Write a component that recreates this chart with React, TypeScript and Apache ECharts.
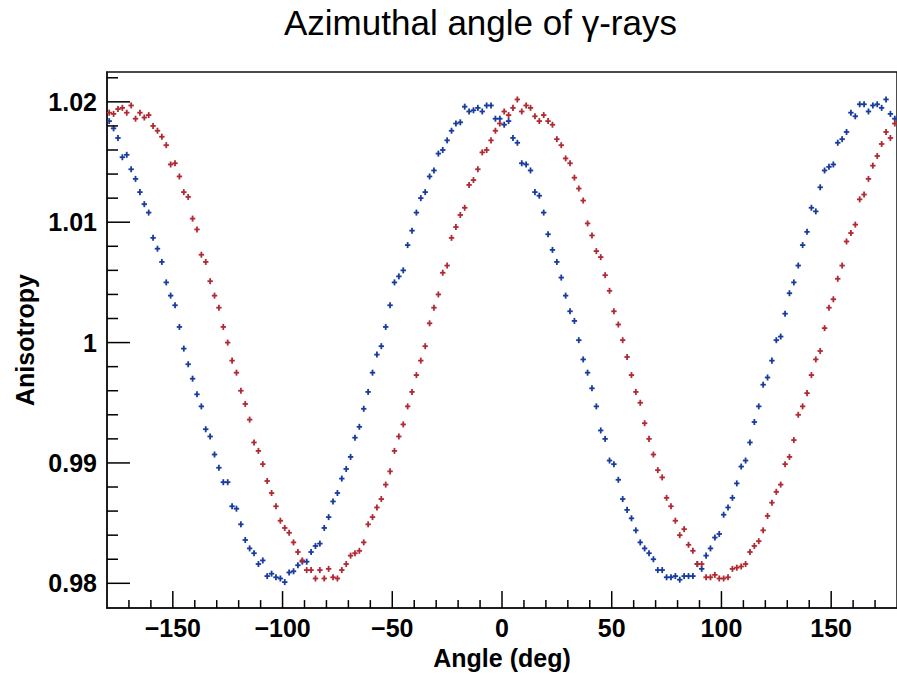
import React, { useEffect, useRef } from "react";
import * as echarts from "echarts";

// Histogram binning (2-degree bins from -180 to 180)
const binStart = -180;
const binWidth = 2;
const nBins = 180;
const errorBar = 0.00025;

// Blue series values (bin centres -179 ... 179)
const blueValues = [
  1.0184, 1.0178, 1.0170, 1.0154, 1.0156, 1.0144, 1.0136, 1.0125, 1.0115, 1.0108,
  1.0087, 1.0078, 1.0067, 1.0050, 1.0039, 1.0031, 1.0013, 0.9995, 0.9982, 0.9970,
  0.9957, 0.9947, 0.9928, 0.9922, 0.9907, 0.9896, 0.9884, 0.9884, 0.9864, 0.9862,
  0.9849, 0.9836, 0.9829, 0.9825, 0.9816, 0.9819, 0.9806, 0.9808, 0.9805, 0.9804,
  0.9801, 0.9809, 0.9810, 0.9815, 0.9818, 0.9818, 0.9826, 0.9831, 0.9833, 0.9846,
  0.9855, 0.9868, 0.9875, 0.9887, 0.9895, 0.9905, 0.9921, 0.9930, 0.9945, 0.9959,
  0.9975, 0.9990, 0.9997, 1.0013, 1.0031, 1.0050, 1.0055, 1.0060, 1.0081, 1.0093,
  1.0108, 1.0120, 1.0125, 1.0138, 1.0143, 1.0157, 1.0160, 1.0168, 1.0176, 1.0182,
  1.0183, 1.0196, 1.0192, 1.0193, 1.0195, 1.0192, 1.0197, 1.0197, 1.0186, 1.0186,
  1.0181, 1.0184, 1.0170, 1.0166, 1.0149, 1.0148, 1.0143, 1.0125, 1.0122, 1.0108,
  1.0090, 1.0077, 1.0067, 1.0054, 1.0039, 1.0026, 1.0018, 1.0002, 0.9986, 0.9975,
  0.9962, 0.9947, 0.9927, 0.9920, 0.9902, 0.9899, 0.9886, 0.9870, 0.9861, 0.9854,
  0.9844, 0.9834, 0.9829, 0.9825, 0.9820, 0.9811, 0.9811, 0.9805, 0.9805, 0.9806,
  0.9803, 0.9806, 0.9806, 0.9806, 0.9816, 0.9812, 0.9823, 0.9829, 0.9838, 0.9841,
  0.9857, 0.9863, 0.9871, 0.9883, 0.9897, 0.9902, 0.9917, 0.9934, 0.9947, 0.9965,
  0.9971, 0.9985, 1.0002, 1.0005, 1.0024, 1.0041, 1.0050, 1.0064, 1.0081, 1.0092,
  1.0112, 1.0109, 1.0129, 1.0143, 1.0146, 1.0148, 1.0166, 1.0169, 1.0175, 1.0191,
  1.0188, 1.0198, 1.0198, 1.0192, 1.0197, 1.0198, 1.0195, 1.0202, 1.0190, 1.0186,
];

// Red series values (bin centres -179 ... 179)
const redValues = [
  1.0191, 1.0190, 1.0194, 1.0195, 1.0191, 1.0197, 1.0186, 1.0191, 1.0187, 1.0189,
  1.0180, 1.0176, 1.0171, 1.0164, 1.0148, 1.0149, 1.0138, 1.0125, 1.0121, 1.0103,
  1.0094, 1.0073, 1.0067, 1.0051, 1.0039, 1.0029, 1.0013, 1.0000, 0.9985, 0.9975,
  0.9960, 0.9949, 0.9936, 0.9917, 0.9910, 0.9899, 0.9885, 0.9875, 0.9864, 0.9852,
  0.9846, 0.9842, 0.9834, 0.9826, 0.9819, 0.9811, 0.9811, 0.9804, 0.9811, 0.9804,
  0.9812, 0.9805, 0.9804, 0.9811, 0.9816, 0.9823, 0.9825, 0.9827, 0.9834, 0.9849,
  0.9855, 0.9863, 0.9870, 0.9882, 0.9893, 0.9910, 0.9922, 0.9932, 0.9947, 0.9959,
  0.9973, 0.9985, 0.9997, 1.0016, 1.0029, 1.0040, 1.0058, 1.0064, 1.0087, 1.0096,
  1.0106, 1.0112, 1.0131, 1.0135, 1.0144, 1.0158, 1.0160, 1.0168, 1.0176, 1.0182,
  1.0192, 1.0189, 1.0195, 1.0202, 1.0192, 1.0197, 1.0195, 1.0188, 1.0184, 1.0189,
  1.0184, 1.0181, 1.0169, 1.0164, 1.0153, 1.0149, 1.0137, 1.0128, 1.0118, 1.0099,
  1.0089, 1.0076, 1.0071, 1.0056, 1.0043, 1.0026, 1.0015, 1.0002, 0.9988, 0.9973,
  0.9959, 0.9950, 0.9933, 0.9920, 0.9907, 0.9894, 0.9888, 0.9871, 0.9864, 0.9852,
  0.9840, 0.9845, 0.9832, 0.9827, 0.9816, 0.9816, 0.9805, 0.9805, 0.9807, 0.9804,
  0.9804, 0.9805, 0.9812, 0.9813, 0.9814, 0.9816, 0.9826, 0.9831, 0.9835, 0.9844,
  0.9856, 0.9867, 0.9876, 0.9882, 0.9899, 0.9905, 0.9919, 0.9940, 0.9947, 0.9958,
  0.9973, 0.9986, 0.9993, 1.0012, 1.0029, 1.0036, 1.0053, 1.0064, 1.0084, 1.0091,
  1.0098, 1.0119, 1.0123, 1.0136, 1.0147, 1.0155, 1.0165, 1.0175, 1.0170, 1.0182,
];

// Tick values and labels
const xMajorTicks = [-150, -100, -50, 0, 50, 100, 150];
const xTickLabels = ["\u2212150", "\u2212100", "\u221250", "0", "50", "100", "150"];
const xMinorTicks = [-170, -160, -140, -130, -120, -110, -90, -80, -70, -60, -40, -30, -20, -10,
  10, 20, 30, 40, 60, 70, 80, 90, 110, 120, 130, 140, 160, 170];
const yMajorTicks = [0.98, 0.99, 1.0, 1.01, 1.02];
const yTickLabels = ["0.98", "0.99", "1", "1.01", "1.02"];
const yMinorTicks = [0.982, 0.984, 0.986, 0.988, 0.992, 0.994, 0.996, 0.998,
  1.002, 1.004, 1.006, 1.008, 1.012, 1.014, 1.016, 1.018, 1.022];

const xMin = -180;
const xMax = 180;
const yMin = 0.97794;
const yMax = 1.02248;

const BLUE = "#183c9e";
const RED = "#b02a33";
const FONT = "'Liberation Sans', Arial, Helvetica, sans-serif";

function makeCrossRender(color: string) {
  return (params: any, api: any) => {
    const x = api.value(0);
    const y = api.value(1);
    const c = api.coord([x, y]);
    const l = api.coord([x - binWidth / 2, y]);
    const r = api.coord([x + binWidth / 2, y]);
    const t = api.coord([x, y + errorBar]);
    const b = api.coord([x, y - errorBar]);
    const style = { stroke: color, lineWidth: 1.8 };
    return {
      type: "group",
      children: [
        { type: "line", shape: { x1: l[0] - 0.5, y1: c[1], x2: r[0] + 0.5, y2: c[1] }, style },
        { type: "line", shape: { x1: c[0], y1: t[1], x2: c[0], y2: b[1] }, style },
      ],
    };
  };
}

// Axis tick marks, placed through the axes' own scales
function makeTickRender(dir: "x" | "y", length: number) {
  return (params: any, api: any) => {
    const p = api.coord([api.value(0), api.value(1)]);
    const style = { stroke: "#000", lineWidth: 1.5 };
    const shape =
      dir === "x"
        ? { x1: p[0], y1: p[1], x2: p[0], y2: p[1] - length }
        : { x1: p[0], y1: p[1], x2: p[0] + length, y2: p[1] };
    return { type: "line", shape, style, silent: true };
  };
}

export default function App() {
  const ref = useRef<HTMLDivElement>(null);
  useEffect(() => {
    if (!ref.current) return;
    const chart = echarts.init(ref.current, undefined, { renderer: "svg" });
    const centres = Array.from({ length: nBins }, (_, i) => binStart + binWidth * (i + 0.5));
    const blueData = blueValues.map((v, i) => [centres[i], v]);
    const redData = redValues.map((v, i) => [centres[i], v]);
    const tickSeries = (data: number[][], dir: "x" | "y", len: number) => ({
      type: "custom",
      silent: true,
      clip: false,
      z: 5,
      renderItem: makeTickRender(dir, len),
      data,
    });
    chart.setOption({
      animation: false,
      backgroundColor: "#fff",
      title: {
        text: "Azimuthal angle of \u03b3-rays",
        left: 279,
        top: 0,
        textStyle: { fontFamily: FONT, fontSize: 35, fontWeight: "normal", color: "#000" },
      },
      grid: {
        left: 107,
        right: -2,
        top: 72,
        bottom: 62,
        show: true,
        borderColor: "#111",
        borderWidth: 1.5,
        backgroundColor: "transparent",
      },
      xAxis: {
        type: "value",
        min: xMin,
        max: xMax,
        name: "Angle (deg)",
        nameLocation: "middle",
        nameGap: 31,
        nameTextStyle: { fontFamily: FONT, fontSize: 25, fontWeight: "bold", color: "#000" },
        axisLine: { show: true, onZero: false, lineStyle: { color: "#111", width: 1.5 } },
        axisTick: { show: false },
        axisLabel: {
          show: true,
          margin: 7,
          customValues: xMajorTicks,
          fontFamily: FONT,
          fontSize: 25,
          fontWeight: "bold",
          color: "#000",
          formatter: (v: number) => {
            const i = xMajorTicks.findIndex((t) => Math.abs(t - v) < 1e-6);
            return i >= 0 ? xTickLabels[i] : "";
          },
        },
        splitLine: { show: false },
      },
      yAxis: {
        type: "value",
        min: yMin,
        max: yMax,
        name: "Anisotropy",
        nameLocation: "middle",
        nameGap: 63,
        nameRotate: 90,
        nameTextStyle: { fontFamily: FONT, fontSize: 25, fontWeight: "bold", color: "#000" },
        axisLine: { show: true, onZero: false, lineStyle: { color: "#111", width: 1.5 } },
        axisTick: { show: false },
        axisLabel: {
          show: true,
          margin: 10,
          customValues: yMajorTicks,
          fontFamily: FONT,
          fontSize: 25,
          fontWeight: "bold",
          color: "#000",
          formatter: (v: number) => {
            const i = yMajorTicks.findIndex((t) => Math.abs(t - v) < 1e-7);
            return i >= 0 ? yTickLabels[i] : "";
          },
        },
        splitLine: { show: false },
      },
      series: [
        tickSeries(xMajorTicks.map((v) => [v, yMin]), "x", 17),
        tickSeries(xMinorTicks.map((v) => [v, yMin]), "x", 8),
        tickSeries(yMajorTicks.map((v) => [xMin, v]), "y", 23),
        tickSeries(yMinorTicks.map((v) => [xMin, v]), "y", 11),
        {
          type: "custom",
          name: "blue",
          clip: true,
          renderItem: makeCrossRender(BLUE),
          data: blueData,
        },
        {
          type: "custom",
          name: "red",
          clip: true,
          renderItem: makeCrossRender(RED),
          data: redData,
        },
      ],
    });
    return () => chart.dispose();
  }, []);
  return (
    <div
      ref={ref}
      style={{ position: "absolute", left: 0, top: 0, width: 897, height: 675, background: "#fff" }}
    />
  );
}
